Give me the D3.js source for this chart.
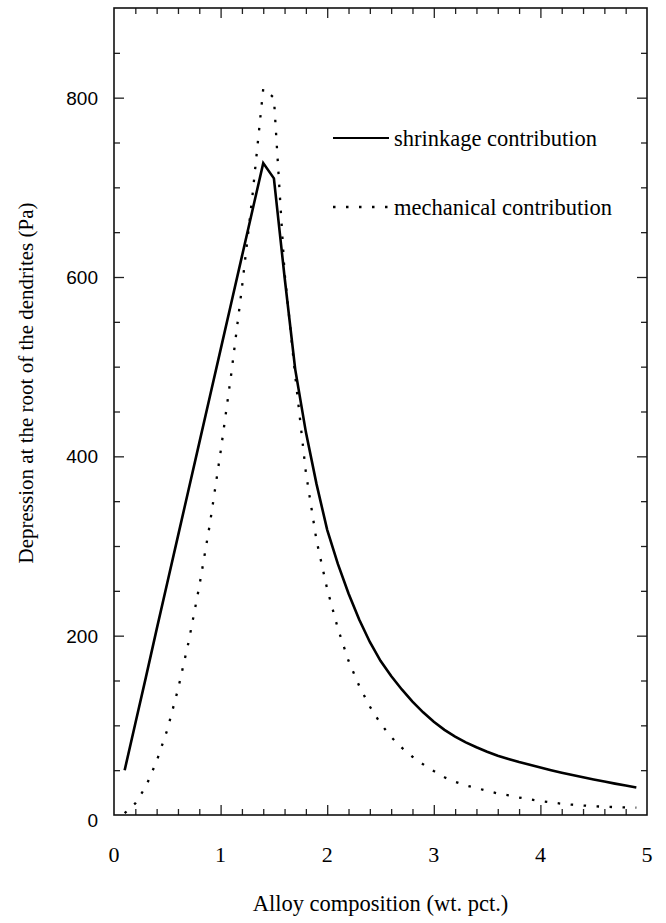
<!DOCTYPE html>
<html>
<head>
<meta charset="utf-8">
<script src="https://cdn.jsdelivr.net/npm/d3@7"></script>
<style>
  body { margin: 0; background: #fff; }
  svg { display: block; }
</style>
</head>
<body>
<svg id="chart"></svg>
<script>
var WIDTH = 666;
var HEIGHT = 923;

// alloy composition (wt. pct.)
var composition = [0.1, 0.2, 0.3, 0.4, 0.5, 0.6, 0.7, 0.8, 0.9, 1.0,
    1.1, 1.2, 1.3, 1.4, 1.5, 1.6, 1.7, 1.8, 1.9, 2.0,
    2.1, 2.2, 2.3, 2.4, 2.5, 2.6, 2.7, 2.8, 2.9, 3.0,
    3.1, 3.2, 3.3, 3.4, 3.5, 3.6, 3.7, 3.8, 3.9, 4.0,
    4.1, 4.2, 4.3, 4.4, 4.5, 4.6, 4.7, 4.8, 4.9];

// depression (Pa)
var shrinkage = [50, 102, 154, 207, 259, 311, 363, 415, 467, 519,
    571, 623, 675, 727, 710, 600, 497, 427, 369, 318,
    280, 247, 218, 193, 172, 155, 140, 126.5, 114.5, 104,
    95, 87.5, 81, 75.5, 70.5, 66, 62.5, 59, 56, 53,
    50, 47.2, 44.5, 42, 39.6, 37.3, 35, 32.8, 30.7];
var mechanical = [2, 13, 32, 60, 95, 140, 193, 255, 325, 405,
    492, 588, 692, 810, 800, 605, 490, 382, 306, 252,
    208, 172, 144, 121, 102, 87, 75, 65, 56.5, 49,
    42, 37, 33, 30, 27, 24, 22, 19.5, 17.5, 15.5,
    14, 12.6, 11.5, 10.6, 9.8, 9.2, 8.8, 8.5, 8.2];

var xMajor = [0, 1, 2, 3, 4, 5];
var xMinor = [0.2, 0.4, 0.6, 0.8, 1.2, 1.4, 1.6, 1.8, 2.2, 2.4, 2.6, 2.8,
    3.2, 3.4, 3.6, 3.8, 4.2, 4.4, 4.6, 4.8];
var yMajor = [0, 200, 400, 600, 800];
var yMinor = [50, 100, 150, 250, 300, 350, 450, 500, 550, 650, 700, 750, 850];

var legendNames = ["shrinkage contribution", "mechanical contribution"];

// plot frame (named so it does not clash with window.top)
var plotLeft = 114, plotRight = 647, plotTop = 8, plotBottom = 815;

var svg = d3.select("#chart")
    .attr("width", WIDTH)
    .attr("height", HEIGHT);

var x = d3.scaleLinear().domain([0, 5]).range([plotLeft, plotRight]);
var y = d3.scaleLinear().domain([0, 900]).range([plotBottom, plotTop]);

//ticks point inward on all four sides
function ticks(axis, values, size, tx, ty) {
    var g = svg.append("g")
        .attr("transform", "translate(" + tx + "," + ty + ")")
        .call(axis.tickValues(values).tickSize(size).tickFormat(""));
    g.select(".domain").remove();
    g.selectAll("line").attr("stroke", "#222").attr("stroke-width", 1.3);
    return g;
}
ticks(d3.axisBottom(x), xMajor.slice(1, 5), -10, 0, plotBottom);
ticks(d3.axisBottom(x), xMinor, -6, 0, plotBottom);
ticks(d3.axisTop(x), xMajor.slice(1, 5), -10, 0, plotTop);
ticks(d3.axisTop(x), xMinor, -6, 0, plotTop);
ticks(d3.axisLeft(y), yMajor.slice(1), -10, plotLeft, 0);
ticks(d3.axisLeft(y), yMinor, -6, plotLeft, 0);
ticks(d3.axisRight(y), yMajor.slice(1), -10, plotRight, 0);
ticks(d3.axisRight(y), yMinor, -6, plotRight, 0);

//frame
svg.append("rect")
    .attr("x", plotLeft).attr("y", plotTop)
    .attr("width", plotRight - plotLeft).attr("height", plotBottom - plotTop)
    .attr("fill", "none")
    .attr("stroke", "#111")
    .attr("stroke-width", 1.6);

//tick labels
svg.append("g").selectAll("text")
    .data(xMajor)
    .enter().append("text")
    .attr("x", function(d) { return x(d); })
    .attr("y", 862)
    .attr("text-anchor", "middle")
    .attr("font-family", "Liberation Serif, Times New Roman, serif")
    .attr("font-size", 22)
    .text(function(d) { return d; });

svg.append("g").selectAll("text")
    .data(yMajor)
    .enter().append("text")
    .attr("x", 98)
    .attr("y", function(d) { return y(d) + 7 + (d === 0 ? 5 : 0); })
    .attr("text-anchor", "end")
    .attr("font-family", "Liberation Sans, Arial, sans-serif")
    .attr("font-size", 19)
    .text(function(d) { return d; });

//axis titles
svg.append("text")
    .attr("x", (plotLeft + plotRight) / 2)
    .attr("y", 911)
    .attr("text-anchor", "middle")
    .attr("font-family", "Liberation Serif, Times New Roman, serif")
    .attr("font-size", 22.5)
    .text("Alloy composition (wt. pct.)");

svg.append("text")
    .attr("transform", "translate(33,383) rotate(-90)")
    .attr("text-anchor", "middle")
    .attr("font-family", "Liberation Serif, Times New Roman, serif")
    .attr("font-size", 21)
    .text("Depression at the root of the dendrites (Pa)");

//curves
var line = d3.line()
    .x(function(d) { return x(d[0]); })
    .y(function(d) { return y(d[1]); });

svg.append("path")
    .datum(d3.zip(composition, mechanical))
    .attr("d", line)
    .attr("fill", "none")
    .attr("stroke", "#000")
    .attr("stroke-width", 2.3)
    .attr("stroke-dasharray", "2.5,10.5");

svg.append("path")
    .datum(d3.zip(composition, shrinkage))
    .attr("d", line)
    .attr("fill", "none")
    .attr("stroke", "#000")
    .attr("stroke-width", 2.6);

//legend
var legend = svg.append("g").selectAll("g")
    .data(legendNames)
    .enter().append("g")
    .attr("transform", function(d, i) { return "translate(333," + (138 + i * 69) + ")"; });

legend.append("line")
    .attr("x1", 0).attr("x2", 56)
    .attr("stroke", "#000")
    .attr("stroke-width", function(d, i) { return i === 0 ? 2 : 2.3; })
    .attr("stroke-dasharray", function(d, i) { return i === 0 ? null : "2.5,10.5"; });

legend.append("text")
    .attr("x", 61)
    .attr("y", 8)
    .attr("font-family", "Liberation Serif, Times New Roman, serif")
    .attr("font-size", 22.5)
    .text(function(d) { return d; });
</script>
</body>
</html>
